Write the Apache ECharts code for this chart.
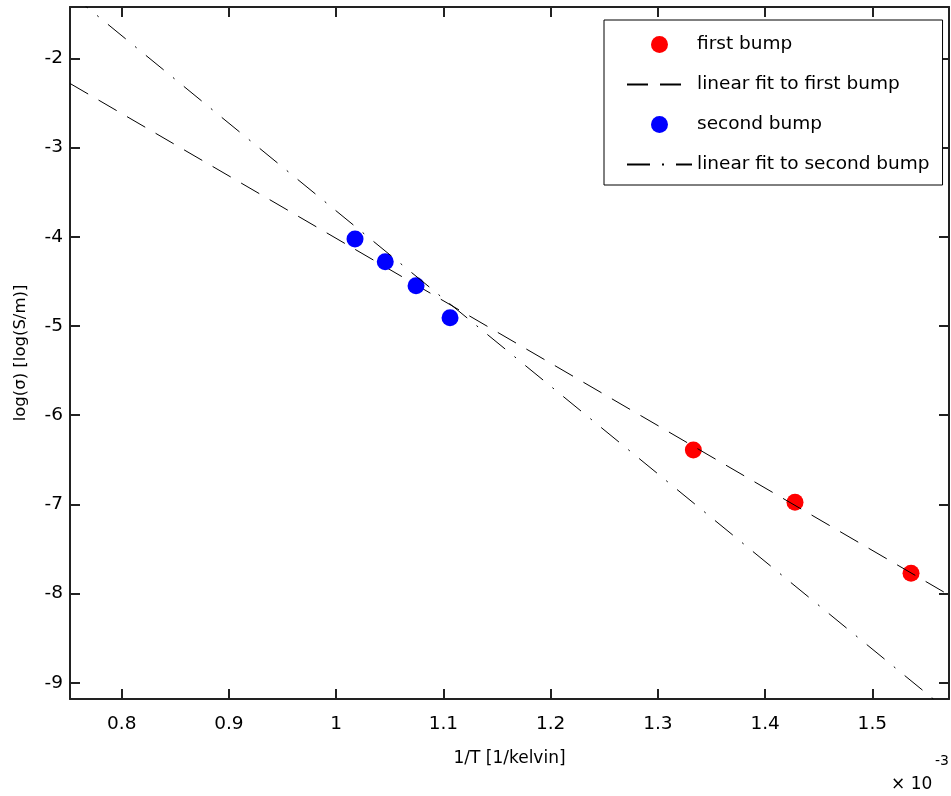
<!DOCTYPE html>
<html><head><meta charset="utf-8">
<script src="https://cdn.jsdelivr.net/npm/echarts@6/dist/echarts.min.js"></script>
<style>html,body{margin:0;padding:0;background:#fff}#c{width:951px;height:796px}</style>
</head><body><div id="c"></div>
<script>
// ---- data ----
const firstBumpX = [1.3331, 1.4279, 1.5361];
const firstBumpY = [-6.391, -6.978, -7.774];
const secondBumpX = [1.0176, 1.0458, 1.0745, 1.1062];
const secondBumpY = [-4.026, -4.280, -4.549, -4.908];
const fit1X = [0.7518, 1.5715];
const fit1Y = [-2.282, -8.017];
const fit2X = [0.7518, 1.5715];
const fit2Y = [-1.272, -9.326];
const xTicks = [0.8, 0.9, 1, 1.1, 1.2, 1.3, 1.4, 1.5];
const yTicks = [-9, -8, -7, -6, -5, -4, -3, -2];
const xRange = [0.7518, 1.5715];
const yRange = [-9.1827, -1.4249];
const seriesNames = ['first bump', 'linear fit to first bump', 'second bump', 'linear fit to second bump'];
const xName = '1/T [1/kelvin]';
const yName = 'log(σ) [log(S/m)]';

const zip = (a, b) => a.map((v, i) => [v, b[i]]);
const FONT = 'DejaVu Sans';
const AX = '#222';

const chart = echarts.init(document.getElementById('c'), null, {renderer: 'canvas'});

const baseX = {
  type: 'value', min: xRange[0], max: xRange[1], gridIndex: 0,
  splitLine: {show: false},
  axisLine: {show: true, onZero: false, lineStyle: {color: AX, width: 2}},
  axisTick: {show: true, inside: true, length: 10, customValues: xTicks, lineStyle: {color: AX, width: 2}},
};
const baseY = {
  type: 'value', min: yRange[0], max: yRange[1], gridIndex: 0,
  splitLine: {show: false},
  axisLine: {show: true, onZero: false, lineStyle: {color: AX, width: 2}},
  axisTick: {show: true, inside: true, length: 10, customValues: yTicks, lineStyle: {color: AX, width: 2}},
};

const hiddenSym = {color: 'rgba(0,0,0,0)', borderWidth: 0, opacity: 0};

chart.setOption({
  animation: false,
  backgroundColor: '#fff',
  grid: {left: 70, top: 7, width: 879, height: 692},
  xAxis: [
    Object.assign({}, baseX, {
      position: 'bottom',
      axisLabel: {show: true, customValues: xTicks, margin: 16, color: '#000', fontFamily: FONT, fontSize: 18.5},
      name: xName, nameLocation: 'middle', nameGap: 51,
      nameTextStyle: {color: '#000', fontFamily: FONT, fontSize: 17}
    }),
    Object.assign({}, baseX, {position: 'top', axisLabel: {show: false}})
  ],
  yAxis: [
    Object.assign({}, baseY, {
      position: 'left',
      axisLabel: {show: true, customValues: yTicks, margin: 7, color: '#000', fontFamily: FONT, fontSize: 18.5, padding: [5, 0, 0, 0]},
      name: yName, nameLocation: 'middle', nameGap: 41, nameRotate: 90,
      nameTextStyle: {color: '#000', fontFamily: FONT, fontSize: 16.5}
    }),
    Object.assign({}, baseY, {position: 'right', axisLabel: {show: false}})
  ],
  legend: {
    orient: 'vertical', left: 604, top: 20,
    padding: [15, 13, 11, 22],
    itemWidth: 65, itemHeight: 17, itemGap: 21,
    borderColor: '#000', borderWidth: 1, borderRadius: 0,
    backgroundColor: '#fff',
    selectedMode: false,
    textStyle: {color: '#000', fontFamily: FONT, fontSize: 18.5, lineHeight: 17},
    data: [
      {name: seriesNames[0]},
      {name: seriesNames[1], itemStyle: hiddenSym},
      {name: seriesNames[2]},
      {name: seriesNames[3], itemStyle: hiddenSym}
    ]
  },
  series: [
    {
      name: seriesNames[0], type: 'scatter', xAxisIndex: 0, yAxisIndex: 0, z: 2,
      data: zip(firstBumpX, firstBumpY), symbol: 'circle', symbolSize: 17,
      itemStyle: {color: '#ff0000', opacity: 1}
    },
    {
      name: seriesNames[1], type: 'line', xAxisIndex: 0, yAxisIndex: 0, z: 3,
      data: zip(fit1X, fit1Y), symbol: 'none', showSymbol: false,
      lineStyle: {color: '#000', width: 1, type: [21, 12]},
      itemStyle: {color: '#000'}
    },
    {
      name: seriesNames[2], type: 'scatter', xAxisIndex: 0, yAxisIndex: 0, z: 4,
      data: zip(secondBumpX, secondBumpY), symbol: 'circle', symbolSize: 17,
      itemStyle: {color: '#0000ff', opacity: 1}
    },
    {
      name: seriesNames[3], type: 'line', xAxisIndex: 0, yAxisIndex: 0, z: 5,
      data: zip(fit2X, fit2Y), symbol: 'none', showSymbol: false,
      lineStyle: {color: '#000', width: 1, type: [23, 12, 2, 12]},
      itemStyle: {color: '#000'}
    }
  ],
  graphic: [
    {type: 'text', left: 891, top: 776, style: {text: '× 10', fill: '#000', font: '17px "DejaVu Sans"'}},
    {type: 'text', left: 935, top: 754, style: {text: '-3', fill: '#000', font: '14px "DejaVu Sans"'}}
  ]
});
</script>
</body></html>
